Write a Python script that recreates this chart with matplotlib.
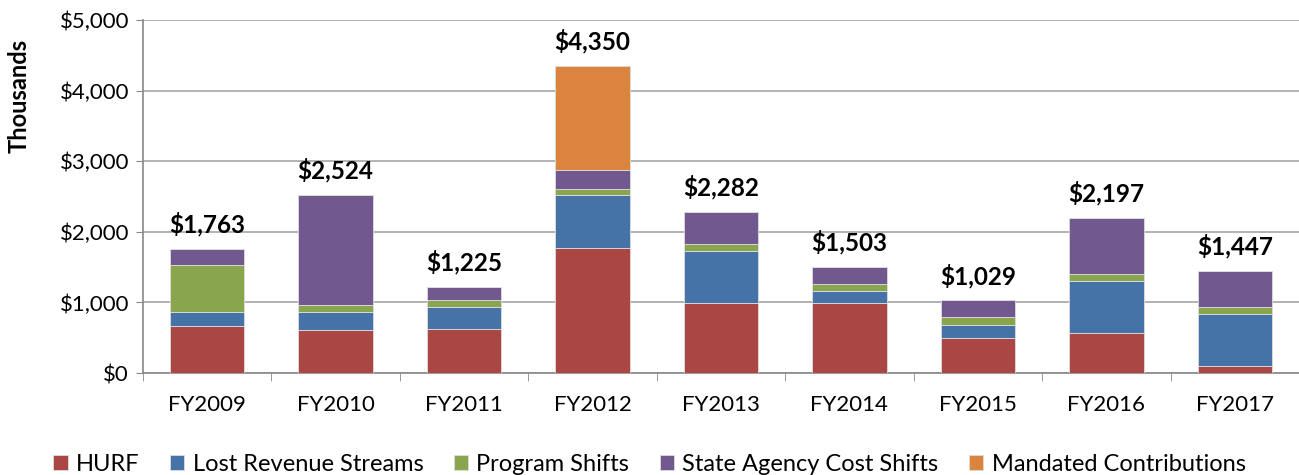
import matplotlib
matplotlib.use("Agg")
import matplotlib.pyplot as plt
import numpy as np
from matplotlib.ticker import FuncFormatter, MultipleLocator

categories = ["FY2009", "FY2010", "FY2011", "FY2012", "FY2013", "FY2014", "FY2015", "FY2016", "FY2017"]
hurf = [670, 616, 620, 1768, 991, 985, 498, 563, 100]
lost_revenue = [195, 250, 317, 748, 743, 179, 189, 740, 734]
program_shifts = [660, 91, 96, 91, 95, 96, 100, 95, 105]
state_agency = [238, 1567, 192, 274, 453, 243, 242, 799, 508]
mandated = [0, 0, 0, 1469, 0, 0, 0, 0, 0]
totals = [1763, 2524, 1225, 4350, 2282, 1503, 1029, 2197, 1447]

series_names = ["HURF", "Lost Revenue Streams", "Program Shifts", "State Agency Cost Shifts", "Mandated Contributions"]
colors = ["#AA4643", "#4572A7", "#89A54E", "#71588F", "#DB843D"]

plt.rcParams['font.family'] = ['Lato', 'DejaVu Sans']

fig = plt.figure(figsize=(12.99, 4.75), dpi=100)
ax = fig.add_axes([0.110, 0.2147, 0.890, 0.7432])

x = np.arange(len(categories))
bottom = np.zeros(len(categories))
for name, vals, c in zip(series_names, [hurf, lost_revenue, program_shifts, state_agency, mandated], colors):
    v = np.array(vals, dtype=float)
    ax.bar(x, v, 0.58, bottom=bottom, color=c, label=name, edgecolor="#DDDDDD", linewidth=0.6, zorder=3)
    bottom += v

for xi, t in zip(x, totals):
    ax.text(xi, t + 170, f"${t:,}", ha="center", va="bottom", fontsize=17.5, fontweight="bold", color="black")

ax.set_xlim(-0.5, len(categories) - 0.5)
ax.set_ylim(0, 5000)
ax.yaxis.set_major_locator(MultipleLocator(1000))
ax.yaxis.set_major_formatter(FuncFormatter(lambda v, p: f"${int(v):,}"))
ax.set_xticks(x)
ax.set_xticklabels(categories)
ax.set_xticks(np.arange(-0.5, len(categories), 1), minor=True)
ax.tick_params(axis="x", which="major", length=0, labelsize=16, pad=16)
ax.tick_params(axis="x", which="minor", length=6, color="#888888")
ax.tick_params(axis="y", which="major", length=5, labelsize=16, color="#888888", pad=5)
ax.grid(axis="y", color="#A6A6A6", linewidth=1.2, zorder=0)
for s in ["top", "right"]:
    ax.spines[s].set_visible(False)
ax.spines["left"].set_color("#888888")
ax.spines["bottom"].set_color("#888888")
ax.spines["left"].set_linewidth(1.2)
ax.spines["bottom"].set_linewidth(1.2)
ax.set_ylabel("Thousands", fontsize=17, fontweight="bold")
ax.yaxis.set_label_coords(-0.0975, 0.785)

fig.legend(loc="lower center", bbox_to_anchor=(0.5, -0.045), ncol=5, frameon=False, fontsize=17,
           handlelength=0.6, handleheight=0.6, handletextpad=0.35, columnspacing=1.3)

fig.savefig("out.png", dpi=100)
